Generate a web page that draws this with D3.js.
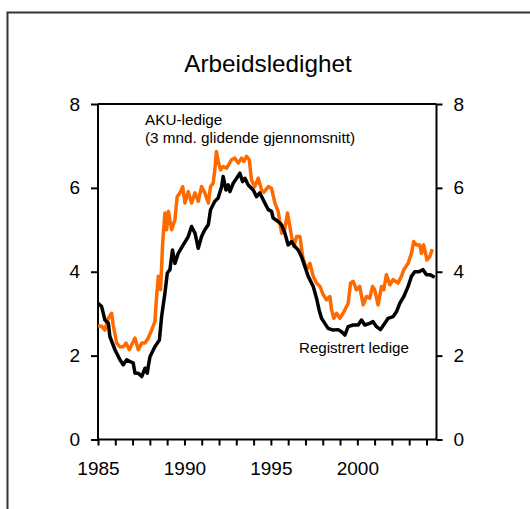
<!DOCTYPE html>
<html><head><meta charset="utf-8">
<script src="https://cdn.jsdelivr.net/npm/d3@7"></script>
<style>body{margin:0;background:#fff}svg{display:block;font-family:"Liberation Sans",Arial,sans-serif}</style>
</head><body><svg id="c" width="530" height="509"></svg>
<script>
const title = "Arbeidsledighet";
const akuLabel = ["AKU-ledige", "(3 mnd. glidende gjennomsnitt)"];
const regLabel = "Registrert ledige";
const xTickYears = [1985,1986,1987,1988,1989,1990,1991,1992,1993,1994,1995,1996,1997,1998,1999,2000,2001,2002,2003,2004];
const xLabelYears = [1985, 1990, 1995, 2000];
const yTicks = [0, 2, 4, 6, 8];

const akuDates = [1985.0,1985.21,1985.4,1985.6,1985.79,1985.88,1986.08,1986.27,1986.46,1986.62,1986.81,1987.0,1987.14,1987.33,1987.53,1987.72,1987.91,1988.1,1988.29,1988.39,1988.49,1988.62,1988.74,1988.87,1988.97,1989.07,1989.26,1989.45,1989.58,1989.74,1989.9,1990.03,1990.22,1990.41,1990.61,1990.8,1990.99,1991.18,1991.38,1991.51,1991.66,1991.76,1991.85,1991.95,1992.09,1992.24,1992.44,1992.72,1992.92,1993.11,1993.31,1993.44,1993.59,1993.75,1993.88,1994.07,1994.27,1994.46,1994.6,1994.85,1995.04,1995.23,1995.42,1995.62,1995.8,1995.96,1996.2,1996.33,1996.49,1996.68,1996.84,1997.07,1997.26,1997.45,1997.64,1997.84,1998.03,1998.22,1998.41,1998.51,1998.64,1998.8,1998.99,1999.18,1999.47,1999.61,1999.76,1999.95,2000.14,2000.34,2000.53,2000.72,2000.88,2001.01,2001.2,2001.4,2001.53,2001.68,2001.88,2002.07,2002.36,2002.55,2002.69,2002.94,2003.13,2003.26,2003.42,2003.61,2003.71,2003.84,2004.03,2004.19,2004.34];
const akuValues = [2.71,2.7,2.61,2.89,3.01,2.73,2.3,2.21,2.21,2.3,2.14,2.3,2.42,2.14,2.3,2.3,2.42,2.61,2.81,3.41,3.89,3.57,4.68,5.4,5.0,5.44,5.0,5.24,5.79,5.88,6.03,5.64,5.91,5.64,5.88,5.68,6.03,5.88,5.64,6.03,6.11,6.43,6.87,6.63,6.43,6.51,6.47,6.67,6.71,6.59,6.71,6.63,6.75,6.67,6.19,6.03,6.23,5.95,5.9,6.03,5.99,5.64,5.44,4.92,5.0,5.4,4.84,4.6,4.84,4.84,4.36,4.05,4.2,3.89,3.73,3.65,3.45,3.33,3.41,3.09,2.89,3.01,2.89,3.01,3.25,3.73,3.77,3.57,3.65,3.21,3.41,3.37,3.65,3.57,3.21,3.65,3.57,3.93,3.69,3.81,3.73,3.89,4.05,4.2,4.44,4.72,4.64,4.64,4.44,4.64,4.28,4.36,4.54];

const regDates = [1985.0,1985.21,1985.4,1985.6,1985.69,1985.98,1986.27,1986.46,1986.66,1986.85,1987.04,1987.14,1987.33,1987.53,1987.72,1987.85,1987.91,1988.01,1988.29,1988.55,1988.68,1988.87,1989.01,1989.16,1989.31,1989.45,1989.64,1989.93,1990.22,1990.41,1990.61,1990.8,1990.99,1991.18,1991.38,1991.51,1991.76,1991.95,1992.15,1992.24,1992.4,1992.53,1992.63,1992.82,1993.02,1993.21,1993.36,1993.5,1993.69,1993.98,1994.17,1994.36,1994.65,1994.85,1995.04,1995.13,1995.42,1995.62,1995.81,1996.0,1996.2,1996.39,1996.58,1996.77,1996.97,1997.16,1997.45,1997.64,1997.79,1997.93,1998.12,1998.31,1998.6,1998.89,1999.09,1999.28,1999.47,1999.76,2000.05,2000.24,2000.43,2000.72,2000.91,2001.11,2001.34,2001.59,2001.78,2002.07,2002.27,2002.46,2002.69,2002.94,2003.13,2003.32,2003.57,2003.8,2004.0,2004.19,2004.48];
const regValues = [3.25,3.17,2.85,2.77,2.45,2.14,1.9,1.78,1.9,1.86,1.82,1.58,1.58,1.5,1.7,1.58,1.75,1.98,2.21,2.37,2.93,3.49,3.97,4.05,4.52,4.2,4.44,4.64,4.84,5.08,4.92,4.56,4.84,5.0,5.12,5.48,5.68,5.76,6.03,6.27,5.95,6.07,5.91,6.11,6.23,6.35,6.15,6.23,6.07,5.95,5.79,5.88,5.64,5.48,5.44,5.28,5.2,5.12,4.92,4.64,4.72,4.6,4.52,4.36,4.12,3.89,3.65,3.37,3.09,2.89,2.77,2.65,2.61,2.62,2.57,2.49,2.69,2.73,2.73,2.85,2.73,2.77,2.81,2.69,2.62,2.77,2.89,2.93,3.05,3.25,3.41,3.65,3.89,4.0,4.0,4.05,3.93,3.93,3.87];

const svg = d3.select("#c");
const L = 98, R = 436.5, T = 104, B = 439.5;
const x = d3.scaleLinear().domain([1985, 2004.58]).range([L, R]);
const y = d3.scaleLinear().domain([0, 8]).range([B, T]);

// outer frame
svg.append("path").attr("d", "M7.5,509 V12.5 H530").attr("fill", "none").attr("stroke", "#333").attr("stroke-width", 2);

svg.append("text").attr("x", 268).attr("y", 72).attr("text-anchor", "middle")
  .attr("font-size", 24.3).attr("fill", "#000").text(title);

const font = 19;
const gl = svg.append("g").attr("transform", `translate(${L},0)`)
  .call(d3.axisLeft(y).tickValues(yTicks).tickFormat(d3.format("d")).tickSize(7).tickPadding(11));
const gr = svg.append("g").attr("transform", `translate(${R},0)`)
  .call(d3.axisRight(y).tickValues(yTicks).tickFormat(d3.format("d")).tickSize(6).tickPadding(11));
const gb = svg.append("g").attr("transform", `translate(0,${B})`)
  .call(d3.axisBottom(x).tickValues(xTickYears).tickFormat(d => xLabelYears.includes(d) ? String(d) : "").tickSize(6).tickPadding(16));
[gl, gr, gb].forEach(g => {
  g.selectAll("path.domain").attr("stroke", "#000").attr("stroke-width", 2);
  g.selectAll(".tick line").attr("stroke", "#000").attr("stroke-width", 2);
  g.selectAll("text").attr("font-size", font).attr("fill", "#000").attr("font-family", "Liberation Sans, Arial, sans-serif");
});
gl.select("path.domain").attr("d", `M0,${B}V${T}`);
gr.select("path.domain").attr("d", `M0,${B}V${T}`);
gb.select("path.domain").attr("d", `M${L},0H${R}`);
svg.append("line").attr("x1", L).attr("x2", R).attr("y1", T).attr("y2", T).attr("stroke", "#000").attr("stroke-width", 2);

const line = d3.line().x(d => x(d[0])).y(d => y(d[1]));
svg.append("path").datum(d3.zip(akuDates, akuValues)).attr("d", line)
  .attr("fill", "none").attr("stroke", "#FF6A00").attr("stroke-width", 3.5).attr("stroke-linejoin", "round");
svg.append("path").datum(d3.zip(regDates, regValues)).attr("d", line)
  .attr("fill", "none").attr("stroke", "#000").attr("stroke-width", 3.5).attr("stroke-linejoin", "round");

const t1 = svg.append("text").attr("font-size", 15.3).attr("fill", "#000");
t1.append("tspan").attr("x", 145).attr("y", 125).text(akuLabel[0]);
t1.append("tspan").attr("x", 145).attr("y", 143).text(akuLabel[1]);
svg.append("text").attr("x", 299).attr("y", 353).attr("font-size", 15.1).attr("fill", "#000").text(regLabel);
</script></body></html>
